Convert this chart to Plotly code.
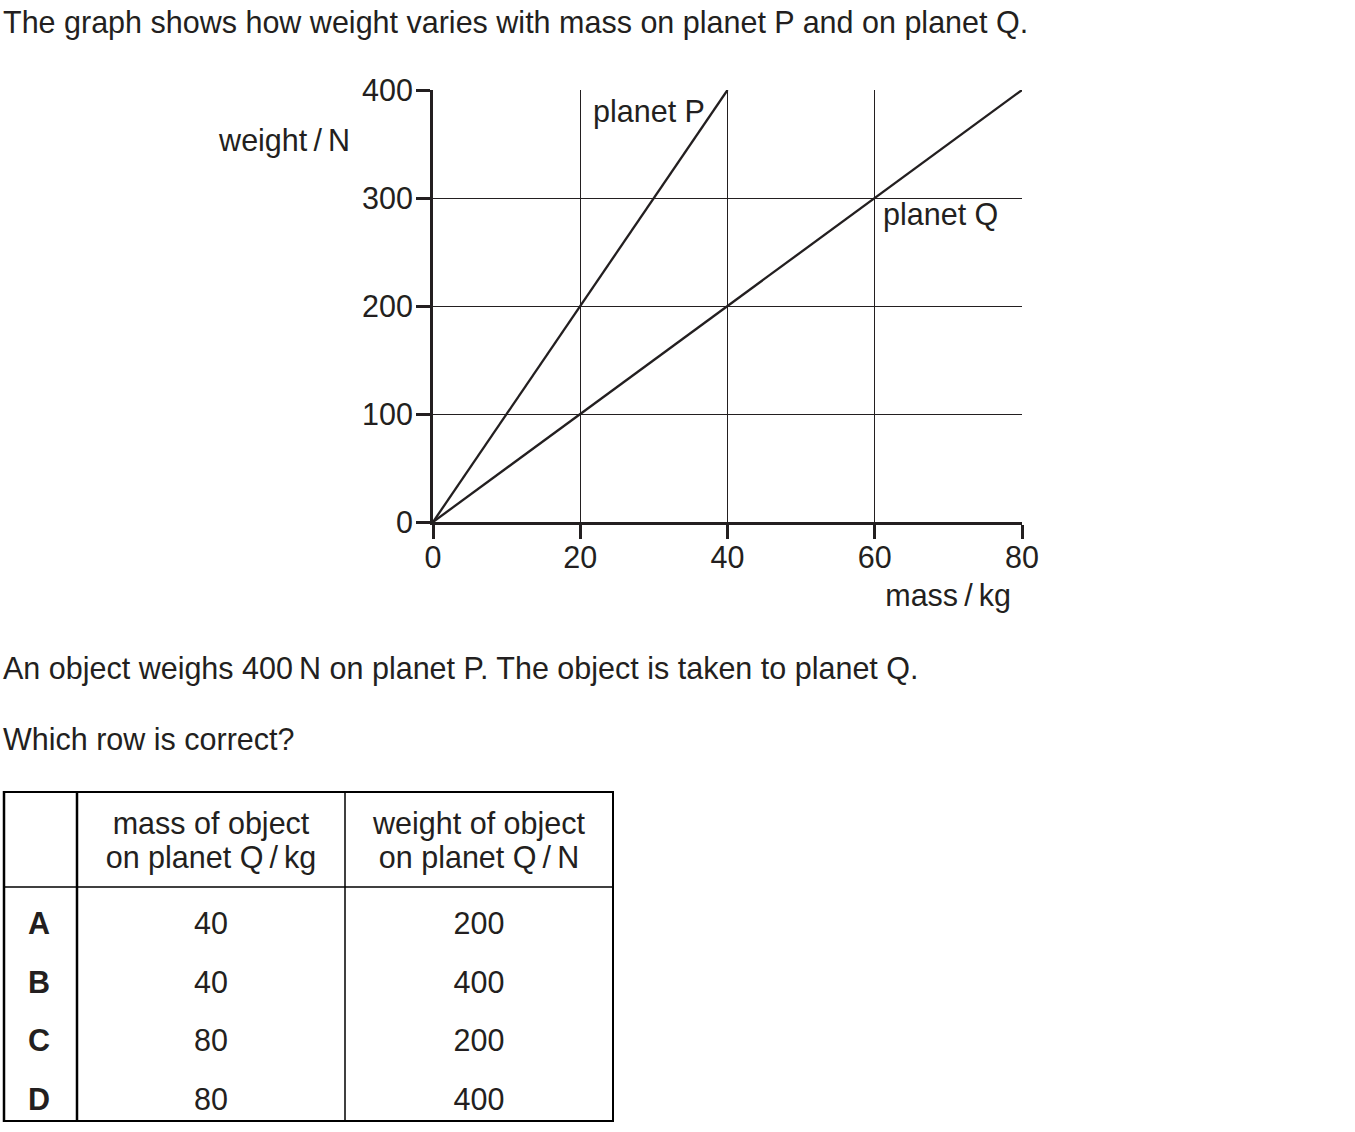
import plotly.graph_objects as go

# ---- data ----
mass_P = [0, 40]
weight_P = [0, 400]
mass_Q = [0, 80]
weight_Q = [0, 400]
x_ticks = [0, 20, 40, 60, 80]
y_ticks = [0, 100, 200, 300, 400]

row_letters = ["A", "B", "C", "D"]
mass_col = ["40", "40", "80", "80"]
weight_col = ["200", "400", "200", "400"]
header_mass = ["mass of object", "on planet Q\u2009/\u2009kg"]
header_weight = ["weight of object", "on planet Q\u2009/\u2009N"]

W, H = 1355, 1132
INK = "#231f20"
FONT = "Liberation Sans, Arial, Helvetica, sans-serif"
FS = 30.5
DY = 3  # vertical text baseline correction

fig = go.Figure()
fig.add_trace(go.Scatter(x=mass_P, y=weight_P, mode="lines",
                         line=dict(color=INK, width=2.3), showlegend=False, hoverinfo="skip"))
fig.add_trace(go.Scatter(x=mass_Q, y=weight_Q, mode="lines",
                         line=dict(color=INK, width=2.3), showlegend=False, hoverinfo="skip"))

axis_common = dict(
    showgrid=True, gridcolor=INK, gridwidth=1,
    showline=True, linecolor=INK, linewidth=3,
    ticks="outside", ticklen=14, tickwidth=3, tickcolor=INK,
    zeroline=False, tickfont=dict(family=FONT, size=FS, color=INK),
    fixedrange=True, automargin=False,
)

fig.update_layout(
    width=W, height=H,
    margin=dict(l=0, r=0, t=0, b=0, pad=0),
    paper_bgcolor="white", plot_bgcolor="rgba(0,0,0,0)",
    xaxis=dict(domain=[433 / W, 1022 / W], range=[0, 80], tickvals=x_ticks,
               ticktext=[str(v) for v in x_ticks], ticklabelstandoff=-8, **axis_common),
    yaxis=dict(domain=[1 - 522 / H, 1 - 90 / H], range=[0, 400], tickvals=y_ticks,
               ticktext=[str(v) for v in y_ticks], ticklabelstandoff=-3, **axis_common),
    # pixel overlay for page text & table
    xaxis2=dict(domain=[0, 1], range=[0, W], visible=False, fixedrange=True,
                automargin=False, anchor="y2"),
    yaxis2=dict(domain=[0, 1], range=[H, 0], visible=False, fixedrange=True,
                automargin=False, anchor="x2"),
    font=dict(family=FONT, color=INK),
    showlegend=False,
)

tx, ty, tt, tp = [], [], [], []


def text(x, y, s, pos="middle center", bold=False):
    tx.append(x)
    ty.append(y + DY)
    tt.append(f"<b>{s}</b>" if bold else s)
    tp.append(pos)


text(3, 22, "The graph shows how weight varies with mass on planet P and on planet Q.", "middle right")
text(350, 140, "weight\u2009/\u2009N", "middle left")
text(1011, 595, "mass\u2009/\u2009kg", "middle left")
text(593, 111, "planet P", "middle right")
text(883, 214, "planet Q", "middle right")
text(3, 668, "An object weighs 400\u2009N on planet P. The object is taken to planet Q.", "middle right")
text(3, 739, "Which row is correct?", "middle right")
text(211, 823, header_mass[0])
text(211, 857, header_mass[1])
text(479, 823, header_weight[0])
text(479, 857, header_weight[1])
row_y = [923, 982, 1040, 1099]
for letter, m, w, yy in zip(row_letters, mass_col, weight_col, row_y):
    text(39, yy, letter, bold=True)
    text(211, yy, m)
    text(479, yy, w)

fig.add_trace(go.Scatter(x=tx, y=ty, text=tt, textposition=tp, mode="text", xaxis="x2", yaxis="y2",
                         textfont=dict(family=FONT, size=FS, color=INK), cliponaxis=False,
                         hoverinfo="skip", showlegend=False))

shapes = []


def line(x0, y0, x1, y1, w):
    shapes.append(dict(type="line", xref="x2", yref="y2", x0=x0, y0=y0, x1=x1, y1=y1,
                       line=dict(color="#000000", width=w)))


# table borders
line(3, 792, 614, 792, 2)
line(3, 887, 614, 887, 1.5)
line(3, 1121, 614, 1121, 2)
line(4, 791, 4, 1122, 2.5)
line(77, 791, 77, 1122, 2.5)
line(345, 791, 345, 1122, 1.5)
line(613, 791, 613, 1122, 2)

fig.update_layout(shapes=shapes)

fig.write_html("out.html", config={"displayModeBar": False, "staticPlot": True},
               post_script="document.body.style.margin='0';document.body.style.overflow='hidden';")
